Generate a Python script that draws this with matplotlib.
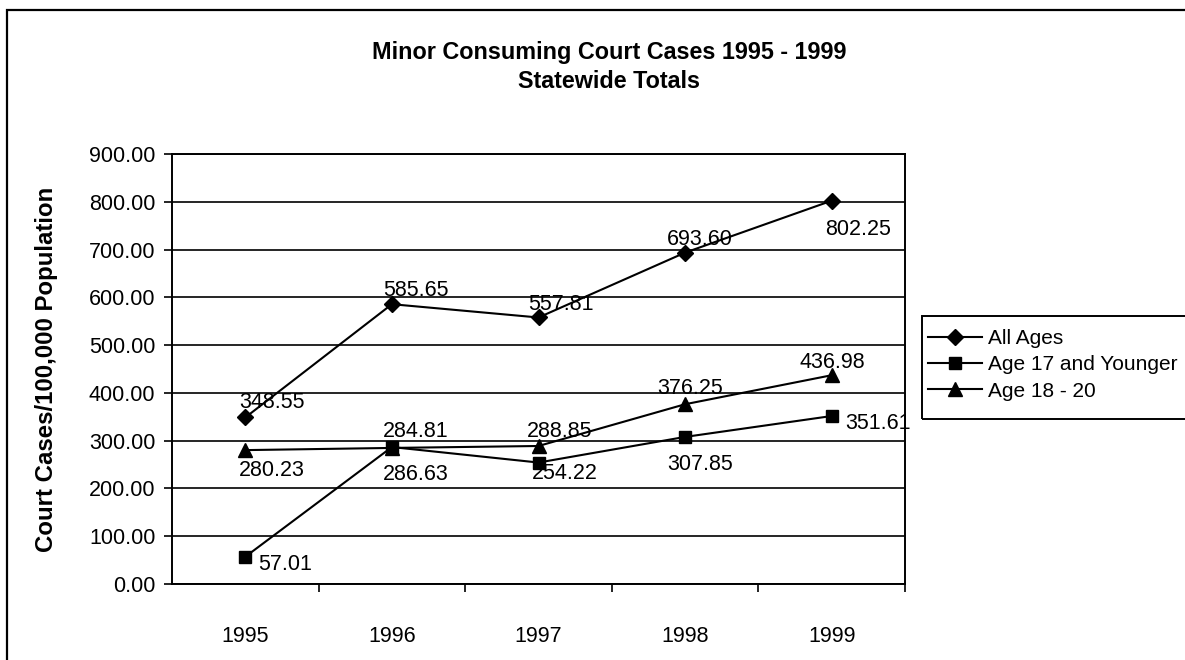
import matplotlib
matplotlib.use("Agg")
import matplotlib.pyplot as plt
from matplotlib.patches import Rectangle
from matplotlib.ticker import FixedLocator, FormatStrFormatter

plt.rcParams['font.family'] = ['Liberation Sans', 'DejaVu Sans']

years = ["1995", "1996", "1997", "1998", "1999"]
all_ages = [348.55, 585.65, 557.81, 693.60, 802.25]
age_17_younger = [57.01, 286.63, 254.22, 307.85, 351.61]
age_18_20 = [280.23, 284.81, 288.85, 376.25, 436.98]
series_names = ["All Ages", "Age 17 and Younger", "Age 18 - 20"]
y_ticks = [0, 100, 200, 300, 400, 500, 600, 700, 800, 900]

title = "Minor Consuming Court Cases 1995 - 1999\nStatewide Totals"
y_label = "Court Cases/100,000 Population"

W, H = 1185, 660
fig = plt.figure(figsize=(W / 100, H / 100), dpi=100)
fig.patch.set_facecolor("white")

# outer border
fig.patches.append(Rectangle((7 / W, -0.1), 1.2, 1 - 10 / H + 0.1,
                             transform=fig.transFigure, fill=False,
                             edgecolor="black", linewidth=1.6))
# legend frame (extends past the right edge as in the reference)
fig.patches.append(Rectangle((922 / W, 1 - 419 / H), 0.4, (419 - 316) / H,
                             transform=fig.transFigure, fill=False,
                             edgecolor="black", linewidth=1.4))

ax = fig.add_axes([172 / W, 1 - 584 / H, (905 - 172) / W, (584 - 154) / H])
x = list(range(len(years)))

markers = ["D", "s", "^"]
msizes = [8.5, 8.5, 9.5]
datasets = [all_ages, age_17_younger, age_18_20]
lines = []
for vals, m, ms, name in zip(datasets, markers, msizes, series_names):
    ln, = ax.plot(x, vals, color="black", linewidth=1.5, marker=m,
                  markersize=ms, markerfacecolor="black",
                  markeredgecolor="black", label=name, zorder=3)
    lines.append(ln)

# label offsets in pixels (dx, dy)
offsets = [
    [(27, 15), (24, 14), (22, 13), (15, 13), (26, -29)],
    [(40, -8), (24, -27), (26, -11), (15, -28), (46, -7)],
    [(27, -20), (24, 16), (21, 14), (5, 16), (1, 13)],
]
for vals, offs in zip(datasets, offsets):
    for xi, v, (dx, dy) in zip(x, vals, offs):
        ax.annotate(f"{v:.2f}", (xi, v), xytext=(dx, dy),
                    textcoords="offset pixels", ha="center", va="center",
                    fontsize=15.5, color="black", zorder=4)

ax.set_xlim(-0.5, len(years) - 0.5)
ax.set_ylim(0, 900)
ax.set_yticks(y_ticks)
ax.yaxis.set_major_formatter(FormatStrFormatter("%.2f"))
ax.grid(axis="y", color="black", linewidth=1.2)
ax.set_axisbelow(True)

ax.set_xticks(x)
ax.set_xticklabels(years)
ax.xaxis.set_minor_locator(FixedLocator([i + 0.5 for i in x]))
ax.tick_params(axis="x", which="major", length=0, pad=30, labelsize=15.5)
ax.tick_params(axis="x", which="minor", length=6, width=1.2, direction="out")
ax.tick_params(axis="y", which="major", length=6, width=1.2, direction="out",
               pad=6, labelsize=15.5)

for s in ax.spines.values():
    s.set_color("black")
    s.set_linewidth(1.4)

fig.text(609 / W, 1 - 67 / H, title, ha="center", va="center",
         fontsize=16.8, fontweight="bold", linespacing=1.35)
fig.text(47 / W, 1 - 369 / H, y_label, rotation=90, ha="center",
         va="center", fontsize=17.3, fontweight="bold")

leg = fig.legend(handles=lines, labels=series_names, loc="upper left",
                 bbox_to_anchor=(924 / W, 1 - 325 / H), fontsize=15,
                 frameon=False, handlelength=2.6, handletextpad=0.25,
                 borderpad=0.2, labelspacing=0.35, borderaxespad=0)

fig.savefig("out.png", dpi=100, facecolor="white")
